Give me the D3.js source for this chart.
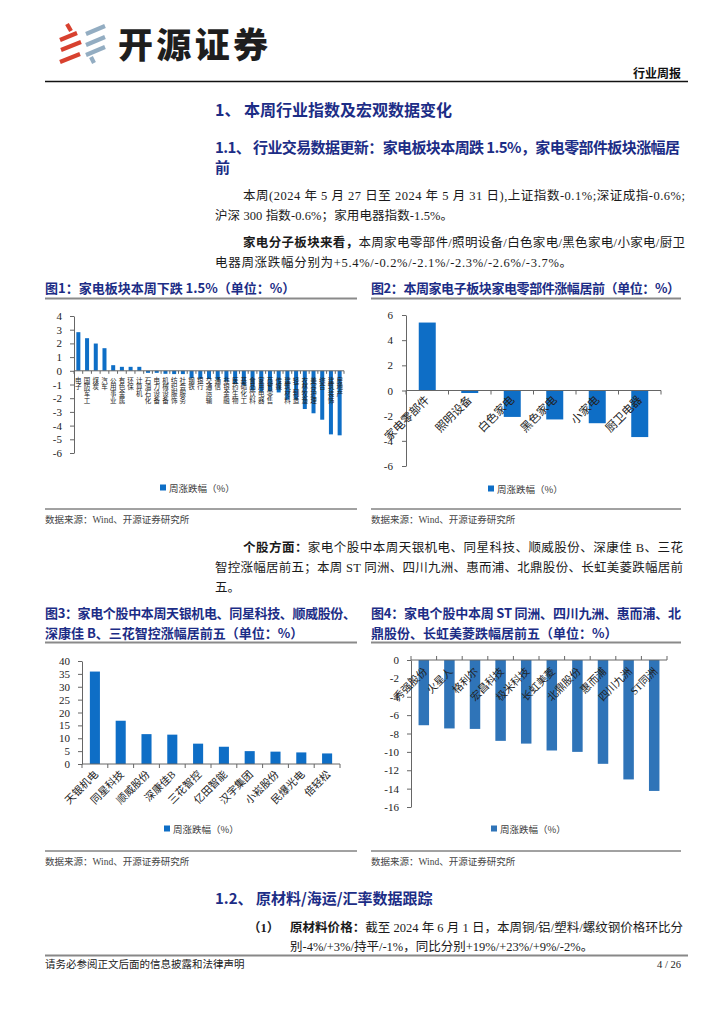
<!DOCTYPE html>
<html><head><meta charset="utf-8">
<script src="https://cdn.jsdelivr.net/npm/d3@7"></script>
<style>body{margin:0;background:#fff}svg{display:block}</style>
</head><body>
<svg id="c" width="724" height="1024"></svg>
<script>
// ---------- DATA ----------
const industryNames = ["电子","国防军工","煤炭","汽车","公用事业","有色金属","环保","计算机","石油石化","电力设备","机械设备","纺织服饰","社会服务","钢铁","银行","交通运输","通信","非银金融","医药生物","基础化工","食品饮料","家用电器","商贸零售","传媒","建筑材料","轻工制造","农林牧渔","美容护理","综合","建筑装饰","房地产"];
const industryChange = [2.82,2.38,1.99,1.65,0.41,0.29,0.29,0.29,-0.15,-0.15,-0.22,-0.24,-0.24,-0.53,-0.58,-0.6,-0.65,-0.78,-0.95,-1.07,-1.43,-1.5,-1.5,-1.58,-2.11,-2.11,-2.79,-3.1,-3.57,-4.64,-4.71];
const industryTicks = [4,3,2,1,0,-1,-2,-3,-4,-5,-6];

const subNames = ["家电零部件","照明设备","白色家电","黑色家电","小家电","厨卫电器"];
const subChange = [5.4,-0.2,-2.1,-2.3,-2.6,-3.7];
const subTicks = [6,4,2,0,-2,-4,-6];

const gainNames = ["天银机电","同星科技","顺威股份","深康佳B","三花智控","亿田智能","汉宇集团","小崧股份","民爆光电","倍轻松"];
const gainChange = [35.9,16.8,11.6,11.4,7.9,6.7,5.0,4.8,4.5,4.1];
const gainTicks = [0,5,10,15,20,25,30,35,40];

const lossNames = ["秀强股份","火星人","格利尔","宏昌科技","极米科技","长虹美菱","北鼎股份","惠而浦","四川九洲","ST同洲"];
const lossChange = [-7.1,-7.45,-7.5,-8.8,-9.1,-9.85,-10.0,-11.3,-13.0,-14.25];
const lossTicks = [0,-2,-4,-6,-8,-10,-12,-14,-16];

const legendLabel = "周涨跌幅（%）";
const sourceLabel = "数据来源：Wind、开源证券研究所";

// ---------- SETUP ----------
const svg = d3.select("#c");
svg.append("rect").attr("width",724).attr("height",1024).attr("fill","#fff");
const SERIF = "'Liberation Serif','Noto Sans CJK SC',serif";
const SANS = "'Noto Sans CJK SC','Noto Sans',sans-serif";
const NAVY = "#1c2d86";
const TXT = "#1a1a1a";

function txt(x,y,parts,opt={}){
  const t = svg.append("text").attr("x",x).attr("y",y)
    .attr("font-family",opt.family||SERIF).attr("font-size",opt.size||12.5)
    .attr("fill",opt.fill||TXT).attr("font-weight",opt.weight||400);
  if(opt.anchor) t.attr("text-anchor",opt.anchor);
  if(opt.len) t.attr("textLength",opt.len).attr("lengthAdjust","spacing");
  if(typeof parts==="string") parts=[[parts,false]];
  parts.forEach(p=>{
    t.append("tspan").text(p[0]).attr("font-weight",p[1]?700:null);
  });
  return t;
}
function rule(x1,x2,y,color,w){
  svg.append("line").attr("x1",x1).attr("x2",x2).attr("y1",y).attr("y2",y)
    .attr("stroke",color).attr("stroke-width",w);
}

// ---------- HEADER ----------
const logo = svg.append("g").attr("stroke-width",4.2).attr("stroke-linecap","butt");
[[67,24,71,31],[60,40,77,33],[61,50,81,42],[60,62,80,54]].forEach(s=>{
  logo.append("line").attr("x1",s[0]).attr("y1",s[1]).attr("x2",s[2]).attr("y2",s[3]).attr("stroke","#d8412f");
});
[[86,34,105,26],[86,45,105,37],[86,55,105,47],[91,57,94,63]].forEach(s=>{
  logo.append("line").attr("x1",s[0]).attr("y1",s[1]).attr("x2",s[2]).attr("y2",s[3]).attr("stroke","#93adc2");
});
txt(118,58,"开源证券",{family:SANS,size:35,weight:900,fill:"#1e1e1e",len:150});
txt(681,78,"行业周报",{family:SANS,size:12,weight:700,anchor:"end",fill:"#111"});
rule(45,688,81.5,"#111",1.3);

// ---------- SECTION TEXT ----------
txt(215,116,"1、 本周行业指数及宏观数据变化",{size:16,weight:700,fill:NAVY,family:SANS});
txt(215,153,"1.1、 行业交易数据更新：家电板块本周跌 1.5%，家电零部件板块涨幅居",{size:15,weight:700,fill:NAVY,family:SANS,len:465});
txt(215,173,"前",{size:15,weight:700,fill:NAVY,family:SANS});
txt(243,200,"本周(2024 年 5 月 27 日至 2024 年 5 月 31 日),上证指数-0.1%;深证成指-0.6%;",{len:442});
txt(215,220,"沪深 300 指数-0.6%；家用电器指数-1.5%。",{len:238});
txt(243,247,[["家电分子板块来看，",true],["本周家电零部件/照明设备/白色家电/黑色家电/小家电/厨卫",false]],{len:442});
txt(215,267,"电器周涨跌幅分别为+5.4%/-0.2%/-2.1%/-2.3%/-2.6%/-3.7%。",{len:357});

txt(45,293,"图1：家电板块本周下跌 1.5%（单位：%）",{size:13,weight:700,fill:NAVY,family:SANS});
txt(371,293,"图2：本周家电子板块家电零部件涨幅居前（单位：%）",{size:13,weight:700,fill:NAVY,family:SANS,len:309});
rule(45,357,298.5,"#8a8a8a",1.8); rule(371,681,298.5,"#8a8a8a",1.8);
rule(45,357,509,"#444",1); rule(371,681,509,"#444",1);
txt(45,523,sourceLabel,{size:9.5,fill:"#444"});
txt(371,523,sourceLabel,{size:9.5,fill:"#444"});

txt(243,552,[["个股方面：",true],["家电个股中本周天银机电、同星科技、顺威股份、深康佳 B、三花",false]],{len:440});
txt(215,572,"智控涨幅居前五；本周 ST 同洲、四川九洲、惠而浦、北鼎股份、长虹美菱跌幅居前",{len:468});
txt(215,592,"五。");

txt(45,618,"图3：家电个股中本周天银机电、同星科技、顺威股份、",{size:13,weight:700,fill:NAVY,family:SANS,len:311});
txt(45,638,"深康佳 B、三花智控涨幅居前五（单位：%）",{size:13,weight:700,fill:NAVY,family:SANS});
txt(371,618,"图4：家电个股中本周 ST 同洲、四川九洲、惠而浦、北",{size:13,weight:700,fill:NAVY,family:SANS,len:310});
txt(371,638,"鼎股份、长虹美菱跌幅居前五（单位：%）",{size:13,weight:700,fill:NAVY,family:SANS});
rule(45,357,642.5,"#8a8a8a",1.8); rule(371,681,642.5,"#8a8a8a",1.8);
rule(45,357,851,"#444",1); rule(371,681,851,"#444",1);
txt(45,865,sourceLabel,{size:9.5,fill:"#444"});
txt(371,865,sourceLabel,{size:9.5,fill:"#444"});

txt(215,904,"1.2、 原材料/海运/汇率数据跟踪",{size:15,weight:700,fill:NAVY,family:SANS});
txt(248,932,"（1）",{weight:700});
txt(290,932,[["原材料价格：",true],["截至 2024 年 6 月 1 日，本周铜/铝/塑料/螺纹钢价格环比分",false]],{len:393});
txt(290,951,"别-4%/+3%/持平/-1%，同比分别+19%/+23%/+9%/-2%。");
rule(45,688,955.5,"#888",1.8);
txt(45,968,"请务必参阅正文后面的信息披露和法律声明",{size:10.5,fill:"#222"});
txt(681,968,"4 / 26",{size:10.5,fill:"#222",anchor:"end"});

// ---------- CHARTS ----------
function drawBars(cfg){
  const g = svg.append("g");
  const x = d3.scaleBand().domain(cfg.names).range([cfg.x0,cfg.x1]).paddingInner(cfg.pad).paddingOuter(cfg.pad/2);
  const y = d3.scaleLinear().domain(cfg.domain).range([cfg.yBottom,cfg.yTop]);
  g.selectAll("rect.bar").data(cfg.values).join("rect").attr("class","bar")
    .attr("x",(d,i)=>x(cfg.names[i])).attr("width",x.bandwidth())
    .attr("y",d=>y(Math.max(0,d))).attr("height",d=>Math.abs(y(d)-y(0)))
    .attr("fill",cfg.color);
  const ya = g.append("g").attr("transform",`translate(${cfg.x0},0)`)
    .call(d3.axisLeft(y).tickValues(cfg.ticks).tickSize(4).tickSizeOuter(0).tickPadding(cfg.tickPad).tickFormat(d=>String(d)));
  ya.select(".domain").attr("stroke","#666");
  ya.selectAll(".tick line").attr("stroke","#666");
  ya.selectAll(".tick text").attr("font-family",SERIF).attr("font-size",11).attr("fill","#222");
  const y0 = y(0);
  g.append("line").attr("x1",cfg.x0).attr("x2",cfg.x1).attr("y1",y0).attr("y2",y0).attr("stroke","#666");
  const step = x.step();
  g.selectAll("line.xt").data(d3.range(cfg.names.length+1)).join("line").attr("class","xt")
    .attr("x1",i=>cfg.x0+i*step).attr("x2",i=>cfg.x0+i*step)
    .attr("y1",y0).attr("y2",y0+cfg.xTick).attr("stroke","#666");
  if(cfg.vertical){
    g.selectAll("text.vl").data(cfg.names).join("text").attr("class","vl")
      .attr("x",d=>x(d)+x.bandwidth()/2).attr("y",y0+6)
      .attr("writing-mode","tb").style("writing-mode","vertical-rl")
      .attr("font-family",SANS).attr("font-size",6.5).attr("fill","#222")
      .attr("letter-spacing",0.2).text(d=>d);
  } else {
    g.selectAll("text.xl").data(cfg.names).join("text").attr("class","xl")
      .attr("transform",d=>`translate(${x(d)+x.bandwidth()/2+cfg.lx},${y0+cfg.ly}) rotate(-45)`)
      .attr("text-anchor","end").attr("font-family",SERIF).attr("font-size",cfg.lsize)
      .attr("fill","#222").text(d=>d);
  }
  // legend
  g.append("rect").attr("x",cfg.legX).attr("y",cfg.legY-3.5).attr("width",6).attr("height",6).attr("fill",cfg.color);
  g.append("text").attr("x",cfg.legX+9).attr("y",cfg.legY+3.5).attr("font-family",SANS)
    .attr("font-size",9.5).attr("fill","#404040").text(legendLabel);
}

drawBars({names:industryNames,values:industryChange,ticks:industryTicks,domain:[-6,4],
  x0:74,x1:344,yBottom:453,yTop:316,pad:0.54,color:"#0e6ec6",tickPad:8,xTick:3,vertical:true,
  legX:160,legY:488});
drawBars({names:subNames,values:subChange,ticks:subTicks,domain:[-6,6],
  x0:406,x1:661,yBottom:466,yTop:315,pad:0.6,color:"#0e6ec6",tickPad:9,xTick:4,
  lx:3,ly:10,lsize:11.5,legX:488,legY:489});
drawBars({names:gainNames,values:gainChange,ticks:gainTicks,domain:[0,40],
  x0:82,x1:340,yBottom:764,yTop:661,pad:0.61,color:"#0e6ec6",tickPad:8,xTick:4,
  lx:4,ly:11,lsize:10.5,legX:164,legY:829});
drawBars({names:lossNames,values:lossChange,ticks:lossTicks,domain:[-16,0],
  x0:411,x1:667,yBottom:807,yTop:660,pad:0.59,color:"#2f74b8",tickPad:8,xTick:-4,
  lx:4,ly:12,lsize:10.5,legX:491,legY:829});
</script>
</body></html>
